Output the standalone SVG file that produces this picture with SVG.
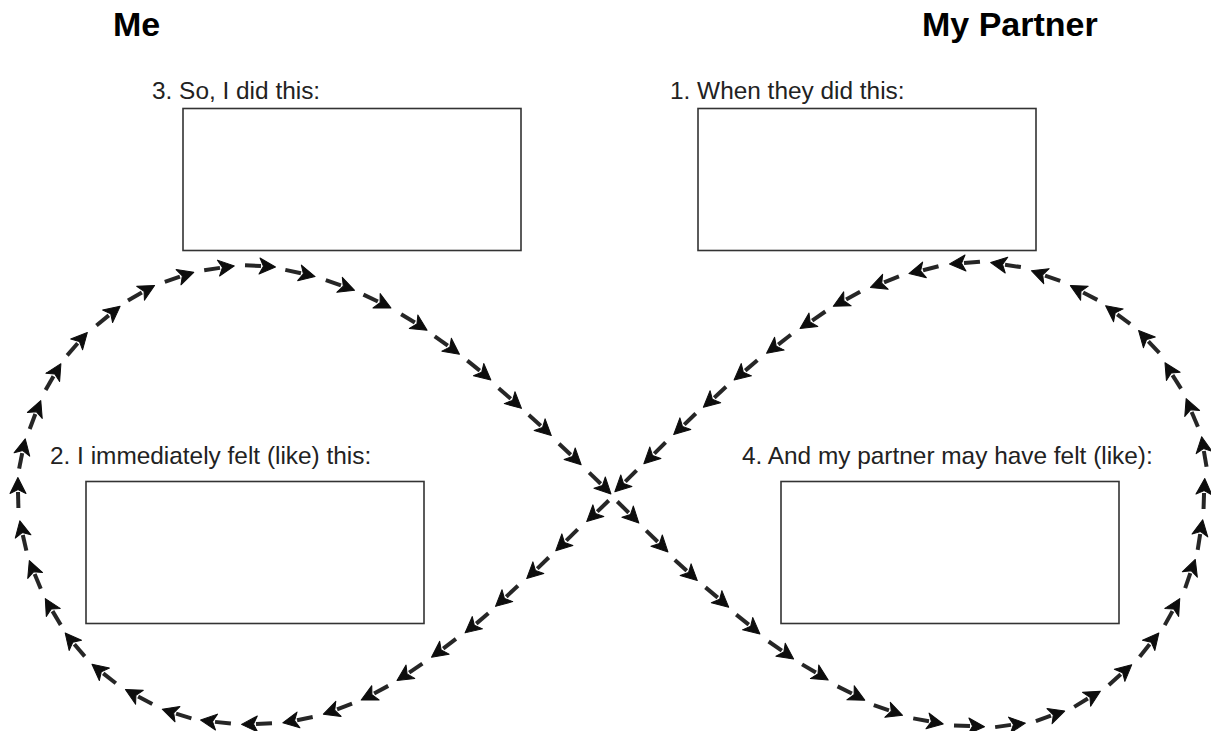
<svg xmlns="http://www.w3.org/2000/svg" width="1211" height="731" viewBox="0 0 1211 731">
  <style>
    .title { font-family: "Liberation Sans", Arial, sans-serif; font-weight: bold; font-size: 34px; fill: #000; }
    .label { font-family: "Liberation Sans", Arial, sans-serif; font-size: 24.4px; fill: #222; }
    .box { fill: #fff; stroke: #333; stroke-width: 1.6; }
    .chain { fill: none; stroke: none; marker-start: url(#step); marker-mid: url(#step); marker-end: url(#step); }
  </style>
  <defs>
    <!-- one small hand-drawn-looking arrow, centred on each path vertex -->
    <marker id="step" markerUnits="userSpaceOnUse" markerWidth="36" markerHeight="22" viewBox="-18 -11 36 22" refX="0" refY="0" orient="auto" overflow="visible">
      <path d="M-15,0.3 L1,0" stroke="#262626" stroke-width="4" stroke-linecap="butt" fill="none"/>
      <path d="M15.5,0 L-0.5,-8 L3.5,0 L-0.5,8 Z" fill="#0d0d0d" stroke="#0d0d0d" stroke-width="1" stroke-linejoin="round"/>
    </marker>
  </defs>

  <rect width="1211" height="731" fill="#fff"/>

  <g id="header-me">
    <text class="title" x="113" y="36">Me</text>
  </g>
  <g id="header-partner">
    <text class="title" x="922" y="36">My Partner</text>
  </g>

  <g id="node-3">
    <text class="label" x="152" y="99">3. So, I did this:</text>
    <rect class="box" x="183" y="108.5" width="338" height="142"/>
  </g>
  <g id="node-1">
    <text class="label" x="670" y="99">1. When they did this:</text>
    <rect class="box" x="698" y="108.5" width="338" height="142"/>
  </g>
  <g id="node-2">
    <text class="label" x="50" y="464">2. I immediately felt (like) this:</text>
    <rect class="box" x="86" y="481.5" width="338" height="142"/>
  </g>
  <g id="node-4">
    <text class="label" x="742" y="464">4. And my partner may have felt (like):</text>
    <rect class="box" x="781" y="481.5" width="338" height="142"/>
  </g>

  <g id="connectors">
    <!-- figure-eight cycle: left loop clockwise, then right loop, each vertex carries one arrow -->
    <path class="chain" d="M598,511 L567,540 L538,568 L507,596 L477,623 L444,648 L410,672 L375,693 L338,709 L298,720 L257,724 L216,722 L177,714 L139,697 L104,674 L75,645 L53,612 L35,575 L23,536 L18,493 L22,454 L35,415 L53,377 L77,344 L108,316 L141,293 L179,277 L219,268 L260,266 L300,273 L340,285 L377,301 L414,322 L447,345 L479,370 L510,398 L540,425 L570,454 L600,483 L628,512 L657,541 L686,570 L717,597 L748,624 L781,650 L815,672 L851,693 L888,710 L928,721 L969,726 L1010,725 L1050,716 L1087,699 L1120,675 L1149,645 L1172,612 L1190,574 L1200,535 L1204,494 L1204,452 L1192,413 L1173,376 L1149,342 L1118,315 L1084,293 L1046,276 L1006,265 L965,263 L924,270 L885,282 L847,299 L813,320 L779,344 L746,370 L715,397 L685,424 L655,453 L626,481"/>
  </g>
</svg>
